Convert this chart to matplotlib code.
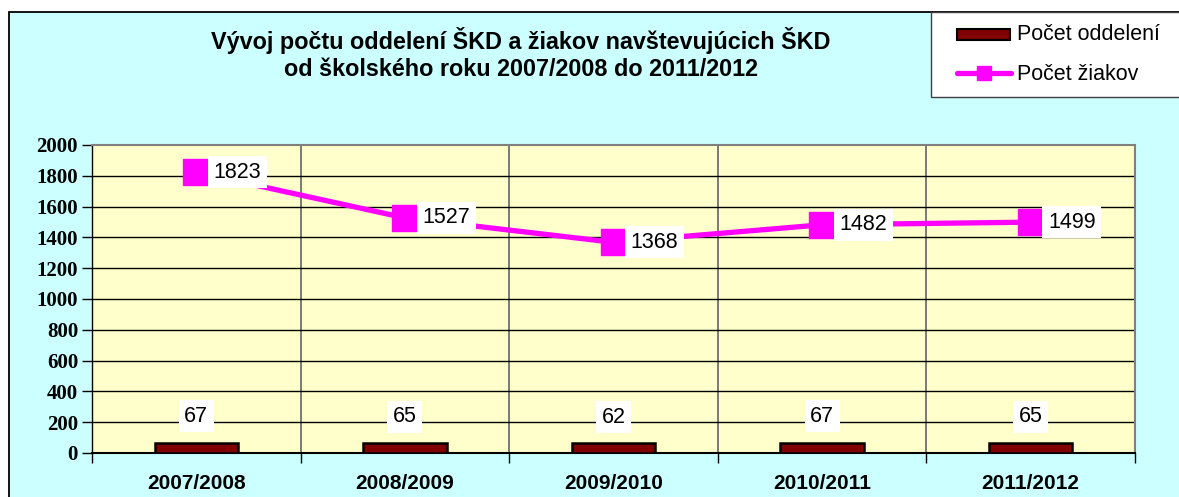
import matplotlib.pyplot as plt
import numpy as np
from matplotlib.patches import Rectangle

# school years, number of classes, number of pupils
years = ['2007/2008', '2008/2009', '2009/2010', '2010/2011', '2011/2012']
oddelenia = [67, 65, 62, 67, 65]
ziaci = [1823, 1527, 1368, 1482, 1499]
y_ticks = [0, 200, 400, 600, 800, 1000, 1200, 1400, 1600, 1800, 2000]

W, H = 1179, 497
fig = plt.figure(figsize=(W / 100, H / 100), dpi=100)
fig.patch.set_facecolor('white')

# background layer in pixel coords
bg = fig.add_axes([0, 0, 1, 1], zorder=-1)
bg.set_xlim(0, W)
bg.set_ylim(H, 0)
bg.axis('off')
bg.add_patch(Rectangle((9, 12), W + 20, H + 20, facecolor='#CCFFFF',
                       edgecolor='black', linewidth=1.3))

ax = fig.add_axes([92 / W, (H - 453) / H, (1135 - 92) / W, (453 - 145) / H],
                  zorder=1)
ax.set_facecolor('#FFFFCC')

x = np.arange(len(years))
ax.bar(x, oddelenia, width=0.4, color='#800000', edgecolor='black',
       linewidth=1.8, zorder=3)
ax.plot(x, ziaci, color='#FF00FF', linewidth=3.8, marker='s',
        markersize=19, zorder=4)

ax.set_xlim(-0.5, len(years) - 0.5)
ax.set_ylim(0, 2000)
ax.set_yticks(y_ticks)
ax.set_yticklabels([str(v) for v in y_ticks], fontfamily='Liberation Serif',
                   fontweight='bold', fontsize=15)
ax.tick_params(axis='y', length=7, width=1, color='black', pad=3)

# category separators
ax.set_xticks(np.arange(len(years) + 1) - 0.5)
ax.set_xticklabels([])
ax.tick_params(axis='x', length=7, width=1, color='black')
for xs in np.arange(1, len(years)) - 0.5:
    ax.axvline(xs, color='#707070', linewidth=1.3, zorder=1)
for yv in y_ticks[1:-1]:
    ax.axhline(yv, color='black', linewidth=1, zorder=1)

for i, lab in enumerate(years):
    ax.text(i, -0.1, lab, transform=ax.get_xaxis_transform(), ha='center',
            va='center', fontfamily='Liberation Sans', fontweight='bold',
            fontsize=15)

for sp in ax.spines.values():
    sp.set_color('#808080')
    sp.set_linewidth(1.5)
ax.spines['bottom'].set_color('black')
ax.spines['left'].set_color('black')
ax.spines['left'].set_linewidth(1)

box = dict(facecolor='white', edgecolor='none', pad=4)
for i, v in enumerate(oddelenia):
    ax.annotate(str(v), (i, v), xytext=(0, 19), textcoords='offset points',
                ha='center', va='center', fontsize=15.5,
                fontfamily='Liberation Sans', bbox=box, zorder=5)
for i, v in enumerate(ziaci):
    ax.annotate(str(v), (i, v), xytext=(12.5, 0), textcoords='offset points',
                ha='left', va='center', fontsize=15.5,
                fontfamily='Liberation Sans', bbox=box, zorder=5)

# overlay in pixel coords for title and legend
ov = fig.add_axes([0, 0, 1, 1], zorder=2)
ov.set_xlim(0, W)
ov.set_ylim(H, 0)
ov.axis('off')
ov.patch.set_alpha(0)

ov.text(521, 40, 'Vývoj počtu oddelení ŠKD a žiakov navštevujúcich ŠKD',
        ha='center', va='center', fontfamily='Liberation Sans',
        fontweight='bold', fontsize=16.8)
ov.text(521, 70, 'od školského roku 2007/2008 do 2011/2012',
        ha='center', va='center', fontfamily='Liberation Sans',
        fontweight='bold', fontsize=16.8)

# legend
ov.add_patch(Rectangle((931, 12), 300, 85, facecolor='white',
                       edgecolor='#404040', linewidth=1))
ov.add_patch(Rectangle((957, 29), 53, 11, facecolor='#800000',
                       edgecolor='black', linewidth=1.5))
ov.plot([957, 1011], [73, 73], color='#FF00FF', linewidth=3.8,
        solid_capstyle='round')
ov.plot([983.5], [73], marker='s', markersize=10, color='#FF00FF')
ov.text(1017, 35, 'Počet oddelení', ha='left', va='center', fontsize=15.5,
        fontfamily='Liberation Sans')
ov.text(1017, 75, 'Počet žiakov', ha='left', va='center', fontsize=15.5,
        fontfamily='Liberation Sans')

fig.savefig('out.png', dpi=100)
